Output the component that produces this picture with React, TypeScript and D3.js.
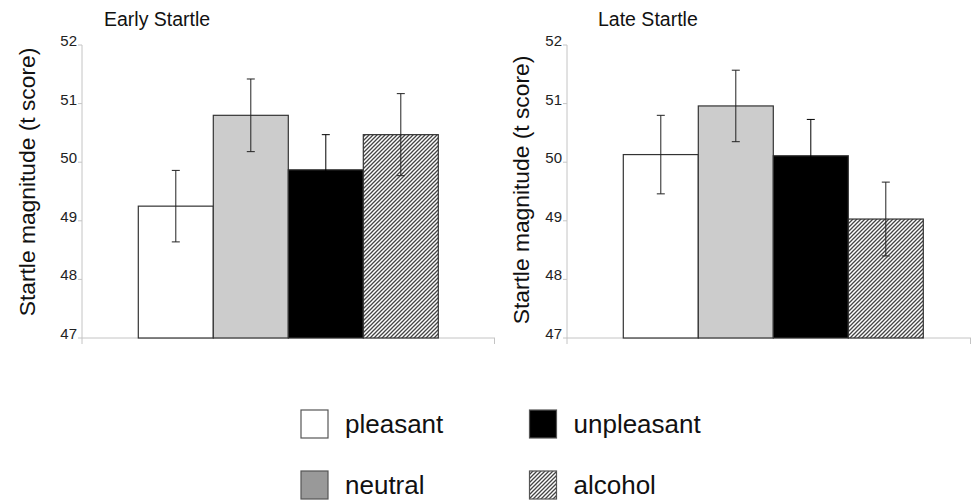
import React from "react";
import * as d3 from "d3";

const categories = ["pleasant", "neutral", "unpleasant", "alcohol"];
const panelTitles = ["Early Startle", "Late Startle"];
const earlyMeans = [49.25, 50.8, 49.87, 50.47];
const earlyErrors = [0.61, 0.62, 0.6, 0.7];
const lateMeans = [50.13, 50.96, 50.11, 49.03];
const lateErrors = [0.67, 0.61, 0.62, 0.63];
const yTicks = [47, 48, 49, 50, 51, 52];
const yLabel = "Startle magnitude (t score)";

const W = 971;
const H = 502;
const FONT = "'Liberation Sans', Arial, sans-serif";
const barFill: Record<string, string> = {
  pleasant: "#ffffff",
  neutral: "#cccccc",
  unpleasant: "#000000",
  alcohol: "url(#hatch)",
};
const legendFill: Record<string, string> = {
  pleasant: "#ffffff",
  neutral: "#999999",
  unpleasant: "#000000",
  alcohol: "url(#hatch)",
};

const panels = [
  { title: panelTitles[0], means: earlyMeans, errs: earlyErrors, axisX: 82, axisEnd: 495, barStart: 138.3, titleX: 104, labelX: 27, labelY: 182 },
  { title: panelTitles[1], means: lateMeans, errs: lateErrors, axisX: 567, axisEnd: 971, barStart: 623.3, titleX: 598, labelX: 521, labelY: 190 },
];

const y = d3.scaleLinear().domain([47, 52]).range([338, 45]);

function Panel({ p }: { p: (typeof panels)[number] }) {
  const x = d3
    .scaleBand<string>()
    .domain(categories)
    .range([p.barStart, p.barStart + 75 * categories.length])
    .padding(0);
  const base = y(47);
  return (
    <g>
      <text x={p.titleX} y={25.5} fontSize={19.5} fontFamily={FONT} fill="#111">
        {p.title}
      </text>
      <text
        transform={`translate(${p.labelX},${p.labelY}) rotate(-90)`}
        textAnchor="middle"
        dominantBaseline="central"
        fontSize={22.8}
        fontFamily={FONT}
        fill="#111"
      >
        {yLabel}
      </text>
      <line x1={p.axisX} x2={p.axisX} y1={y(52)} y2={base + 6} stroke="#c4c4c4" />
      <line x1={p.axisX} x2={p.axisEnd} y1={base} y2={base} stroke="#c4c4c4" />
      <line x1={p.axisEnd - 0.5} x2={p.axisEnd - 0.5} y1={base} y2={base + 6} stroke="#c4c4c4" />
      {yTicks.map((t) => (
        <g key={t}>
          <line x1={p.axisX - 4} x2={p.axisX} y1={y(t)} y2={y(t)} stroke="#c4c4c4" />
          <text
            x={p.axisX - 5}
            y={y(t) + 1}
            textAnchor="end"
            fontSize={15}
            fontFamily={FONT}
            fill="#222"
          >
            {t}
          </text>
        </g>
      ))}
      {categories.map((c, i) => {
        const x0 = x(c)!;
        const top = y(p.means[i]);
        return (
          <rect
            key={c}
            x={x0}
            y={top}
            width={x.bandwidth()}
            height={base - top}
            fill={barFill[c]}
            stroke="#333"
            strokeWidth={1.2}
          />
        );
      })}
      {categories.map((c, i) => {
        const cx = x(c)! + x.bandwidth() / 2;
        const hi = y(p.means[i] + p.errs[i]);
        const lo = y(p.means[i] - p.errs[i]);
        const stroke = c === "unpleasant" ? "#000" : "#222";
        return (
          <g key={c} stroke={stroke} strokeWidth={1}>
            <line x1={cx} x2={cx} y1={hi} y2={lo} />
            <line x1={cx - 4} x2={cx + 4} y1={hi} y2={hi} />
            <line x1={cx - 4} x2={cx + 4} y1={lo} y2={lo} />
          </g>
        );
      })}
    </g>
  );
}

const legendPos = [
  { x: 301, y: 410 },
  { x: 301, y: 471 },
  { x: 529.5, y: 410 },
  { x: 529.5, y: 471 },
];

export default function App() {
  return (
    <svg
      width={W}
      height={H}
      style={{ position: "absolute", left: 0, top: 0, background: "#fff", display: "block" }}
    >
      <defs>
        <pattern id="hatch" patternUnits="userSpaceOnUse" width={4} height={4}>
          <rect width={4} height={4} fill="#fff" />
          <path d="M-1,1 l2,-2 M0,4 l4,-4 M3,5 l2,-2" stroke="#444" strokeWidth={1.3} />
        </pattern>
      </defs>
      <rect width={W} height={H} fill="#fff" />
      {panels.map((p) => (
        <Panel key={p.title} p={p} />
      ))}
      {categories.map((c, i) => (
        <g key={c}>
          <rect
            x={legendPos[i].x}
            y={legendPos[i].y}
            width={27}
            height={28}
            fill={legendFill[c]}
            stroke="#555"
            strokeWidth={1.2}
          />
          <text
            x={legendPos[i].x + 44}
            y={legendPos[i].y + 23}
            fontSize={26}
            fontFamily={FONT}
            fill="#111"
          >
            {c}
          </text>
        </g>
      ))}
    </svg>
  );
}
